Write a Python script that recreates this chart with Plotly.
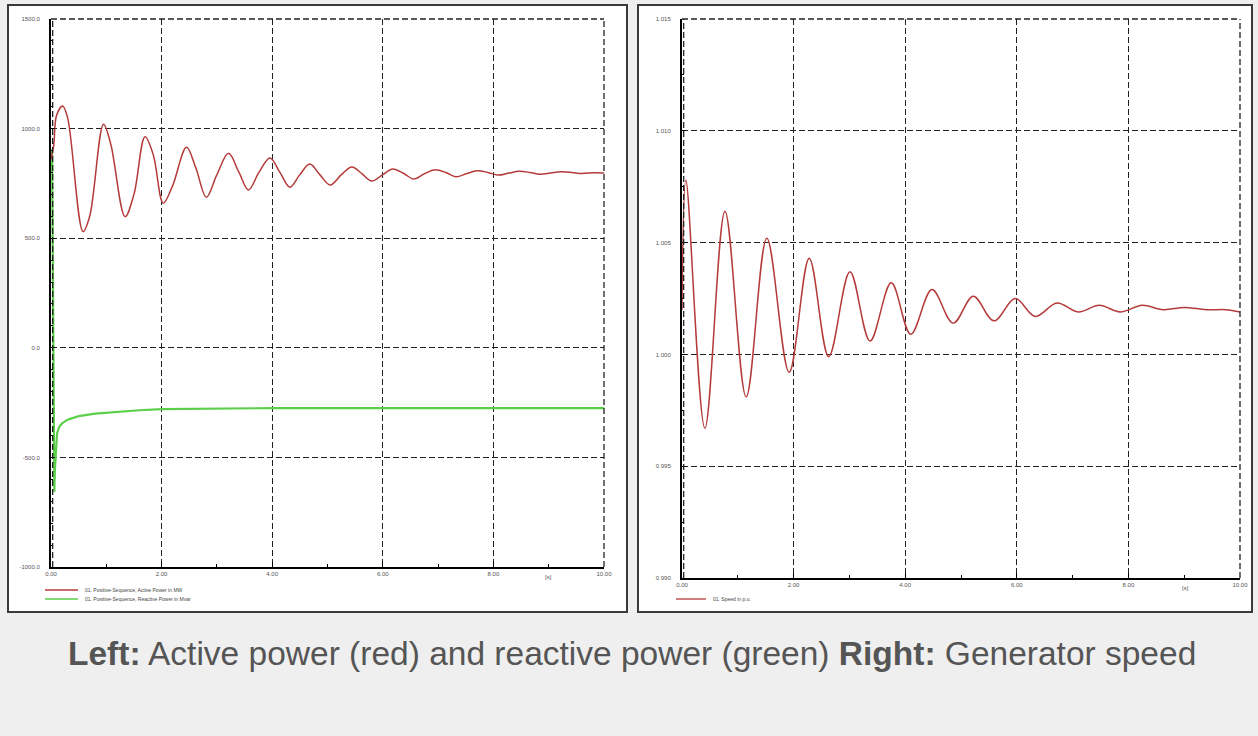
import plotly.graph_objects as go

# ---- data ----------------------------------------------------------------
# Active power (MW) after the disturbance
p_time = [0.00, 0.05, 0.10, 0.21, 0.30, 0.58, 0.70, 0.95, 1.08, 1.34, 1.50,
          1.70, 1.85, 2.03, 2.20, 2.45, 2.62, 2.81, 3.00, 3.21, 3.40, 3.57,
          3.76, 3.96, 4.14, 4.32, 4.50, 4.68, 4.86, 5.05, 5.25, 5.44, 5.62,
          5.80, 6.00, 6.18, 6.38, 6.56, 6.76, 6.94, 7.14, 7.32, 7.52, 7.70,
          7.90, 8.08, 8.28, 8.46, 8.66, 8.84, 9.04, 9.22, 9.42, 9.60, 9.80,
          10.00]
p_active = [860, 925, 1060, 1103, 1050, 530, 600, 1020, 930, 598, 700,
            963, 880, 660, 740, 915, 820, 687, 790, 887, 800, 720,
            800, 866, 800, 733, 790, 838, 790, 743, 790, 825, 795,
            761, 790, 816, 795, 770, 795, 812, 800, 780, 795, 808,
            800, 788, 797, 805, 800, 792, 798, 803, 800, 795, 799,
            797]

# Reactive power (Mvar)
q_time = [0.00, 0.02, 0.03, 0.04, 0.05, 0.06, 0.07, 0.09, 0.11, 0.15, 0.20,
          0.30, 0.50, 0.80, 1.20, 1.60, 2.00, 3.00, 4.00, 6.00, 8.00, 10.00]
q_reactive = [905, 880, 500, -100, -450, -658, -560, -440, -390, -360, -345,
              -328, -312, -300, -292, -285, -280, -276, -275, -275, -275,
              -275]

# Generator speed (p.u.)
w_time = [0.00, 0.07, 0.41, 0.77, 1.15, 1.52, 1.92, 2.28, 2.63, 3.01, 3.37,
          3.75, 4.10, 4.48, 4.86, 5.22, 5.59, 5.97, 6.33, 6.72, 7.10, 7.48,
          7.85, 8.25, 8.62, 9.00, 9.40, 9.75, 10.00]
w_speed = [1.0020, 1.0078, 0.9967, 1.0064, 0.9981, 1.0052, 0.9992, 1.0043,
           0.9999, 1.0037, 1.0006, 1.0032, 1.0009, 1.0029, 1.0014, 1.0026,
           1.0015, 1.0025, 1.0017, 1.0023, 1.0019, 1.0022, 1.0019, 1.0022,
           1.0020, 1.0021, 1.0020, 1.0020, 1.0019]

x_ticks = [0, 2, 4, 6, 8, 10]
x_labels = ["0.00", "2.00", "4.00", "6.00", "8.00", "10.00"]
p_ticks = [1500, 1000, 500, 0, -500, -1000]
p_labels = ["1500.0", "1000.0", "500.0", "0.0", "-500.0", "-1000.0"]
w_ticks = [1.015, 1.010, 1.005, 1.000, 0.995, 0.990]
w_labels = ["1.015", "1.010", "1.005", "1.000", "0.995", "0.990"]

legend_left = ["01. Positive-Sequence, Active Power in MW",
               "01. Positive-Sequence, Reactive Power in Mvar"]
legend_right = ["01. Speed in p.u."]

# ---- geometry --------------------------------------------------------------
W, H = 1258, 736


def fx(px):
    return px / W


def fy(py):
    return 1 - py / H


RED = "#b53a3a"
GREEN = "#5ccf4a"
GRID = "#222222"
TICKFONT = dict(family="Liberation Sans", size=6, color="#555555")

fig = go.Figure()

fig.add_trace(go.Scatter(x=q_time, y=q_reactive, mode="lines",
                         line=dict(color=GREEN, width=2.2),
                         xaxis="x", yaxis="y", showlegend=False))
fig.add_trace(go.Scatter(x=p_time, y=p_active, mode="lines",
                         line=dict(color=RED, width=1.5, shape="spline", smoothing=1.0),
                         xaxis="x", yaxis="y", showlegend=False))
fig.add_trace(go.Scatter(x=w_time, y=w_speed, mode="lines",
                         line=dict(color=RED, width=1.5, shape="spline", smoothing=1.0),
                         xaxis="x2", yaxis="y2", showlegend=False))

common_x = dict(range=[0, 10], tickvals=x_ticks, ticktext=x_labels,
                showgrid=True, gridcolor=GRID, griddash="6px,3px", gridwidth=1.3,
                showline=True, linecolor="black", linewidth=2,
                ticks="inside", ticklen=5, tickcolor="black",
                minor=dict(dtick=1, ticks="inside", ticklen=3, tickcolor="black", showgrid=False),
                tickfont=TICKFONT, zeroline=False, fixedrange=True, automargin=False)
common_y = dict(showgrid=True, gridcolor=GRID, griddash="6px,3px", gridwidth=1.3,
                showline=True, linecolor="black", linewidth=2,
                ticks="inside", ticklen=4, tickcolor="black", ticklabelstandoff=8,
                tickfont=TICKFONT, zeroline=False, fixedrange=True, automargin=False)

fig.update_layout(
    width=W, height=H,
    margin=dict(l=0, r=0, t=0, b=0, autoexpand=False),
    paper_bgcolor="#efefef",
    plot_bgcolor="rgba(0,0,0,0)",
    xaxis=dict(domain=[fx(51), fx(604)], anchor="y", **common_x),
    yaxis=dict(domain=[fy(567), fy(19)], anchor="x", range=[-1000, 1500],
               tickvals=p_ticks, ticktext=p_labels,
               minor=dict(dtick=100, ticks="inside", ticklen=2, tickcolor="black", showgrid=False),
               **common_y),
    xaxis2=dict(domain=[fx(682), fx(1240)], anchor="y2", **common_x),
    yaxis2=dict(domain=[fy(578), fy(19)], anchor="x2", range=[0.990, 1.015],
                tickvals=w_ticks, ticktext=w_labels,
                minor=dict(dtick=0.0025, ticks="inside", ticklen=2, tickcolor="black", showgrid=False),
                **common_y),
)

shapes = []
# white panels with dark frames
for x0, x1 in [(8, 627), (638, 1252)]:
    shapes.append(dict(type="rect", xref="paper", yref="paper", layer="below",
                       x0=fx(x0), x1=fx(x1), y0=fy(612), y1=fy(5),
                       fillcolor="white", line=dict(color="#3a3a3a", width=2)))
# dashed top / right borders of each plotting area
for xa, ya in [("x", "y"), ("x2", "y2")]:
    shapes.append(dict(type="line", xref=f"{xa} domain", yref=f"{ya} domain",
                       x0=0, x1=1, y0=1, y1=1,
                       line=dict(color=GRID, width=1.3, dash="6px,3px")))
    shapes.append(dict(type="line", xref=f"{xa} domain", yref=f"{ya} domain",
                       x0=1, x1=1, y0=0, y1=1,
                       line=dict(color=GRID, width=1.3, dash="6px,3px")))
    shapes.append(dict(type="line", xref=f"{xa} domain", yref=f"{ya} domain",
                       x0=0.003, x1=0.003, y0=0, y1=1,
                       line=dict(color=GRID, width=1.3, dash="6px,3px")))

# legend samples
legend_rows = [(legend_left[0], RED, 45, 78, 590),
               (legend_left[1], GREEN, 45, 78, 599),
               (legend_right[0], RED, 676, 706, 599)]
annotations = []
for text, col, lx0, lx1, ly in legend_rows:
    shapes.append(dict(type="line", xref="paper", yref="paper",
                       x0=fx(lx0), x1=fx(lx1), y0=fy(ly), y1=fy(ly),
                       line=dict(color=col, width=1.3)))
    annotations.append(dict(text=text, xref="paper", yref="paper",
                            x=fx(lx1 + 5), y=fy(ly), xanchor="left", yanchor="middle",
                            showarrow=False,
                            font=dict(family="Liberation Sans", size=5, color="#444444")))

# unit label on each time axis
for px, py in ((548, 577), (1185, 588)):
    annotations.append(dict(text="[s]", xref="paper", yref="paper",
                            x=fx(px), y=fy(py), xanchor="center",
                            yanchor="middle", showarrow=False, font=TICKFONT))

annotations.append(dict(
    text="<b>Left:</b> Active power (red) and reactive power (green) "
         "<b>Right:</b> Generator speed",
    xref="paper", yref="paper", x=fx(632), y=fy(653),
    xanchor="center", yanchor="middle", showarrow=False,
    font=dict(family="Liberation Sans", size=33.5, color="#555555")))

fig.update_layout(shapes=shapes, annotations=annotations)

fig.write_html("out.html")
